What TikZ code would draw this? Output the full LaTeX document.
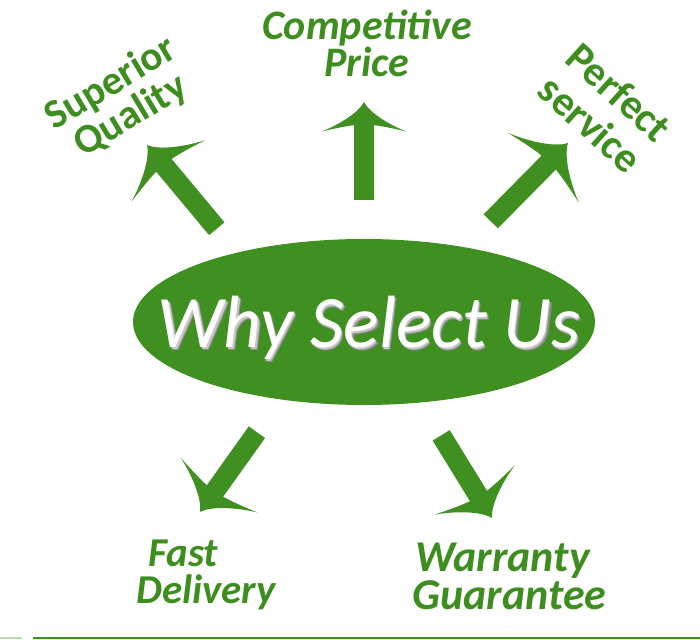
\documentclass[tikz,border=0pt]{standalone}
\usepackage{fontspec}
\setmainfont{Carlito}
\definecolor{wgreen}{RGB}{63,143,33}
\definecolor{tgreen}{RGB}{61,141,31}
\newcommand{\embossed}[1]{\makebox[0pt][l]{\kern2.3pt\raisebox{-2.3pt}{\color{black!45}#1}}\makebox[0pt][l]{\kern1.2pt\raisebox{-1.2pt}{\color{black!22}#1}}#1}
\tikzset{
  pics/fatarrow/.style args={#1/#2}{code={
    \fill[wgreen] (0,0) .. controls ({-0.26*#2},{0.13*#2}) and ({-0.55*#2},{0.62*#2}) .. ({-0.70*#2},#2)
      .. controls ({-0.63*#2},{0.70*#2}) and ({-0.57*#2},{0.40*#2}) .. ({-0.55*#2},10)
      -- (-#1,10) -- (-#1,-10) -- ({-0.55*#2},-10)
      .. controls ({-0.57*#2},{-0.40*#2}) and ({-0.63*#2},{-0.70*#2}) .. ({-0.70*#2},-#2)
      .. controls ({-0.55*#2},{-0.62*#2}) and ({-0.26*#2},{-0.13*#2}) .. cycle;
  }},
  lbl/.style={text=tgreen, align=center, inner sep=0pt},
  lblit/.style={lbl, align=left, anchor=west, font=\fontsize{41}{37}\selectfont\bfseries\itshape},
  lblup/.style={lbl, font=\fontsize{41}{38}\selectfont\bfseries},
  whytext/.style={inner sep=0pt, anchor=base, font=\fontsize{74}{80}\selectfont\itshape}
}
\begin{document}
\begin{tikzpicture}[x=1pt,y=1pt]
\useasboundingbox (0,0) rectangle (700,639);
% central ellipse
\fill[wgreen] (364,317) ellipse [x radius=231, y radius=83];
\node[whytext, text=white] (why) at (369,291) {\embossed{Why Select Us}};
% arrows
\pic (aup) [rotate=90] at (364,537) {fatarrow=98/42};
\pic (asq) [rotate=129.8] at (147,494) {fatarrow=109/48};
\pic (aps) [rotate=45.4] at (568,496) {fatarrow=110/50};
\pic (afd) [rotate=-125.5] at (200,127) {fatarrow=98/47};
\pic (awg) [rotate=-58.4] at (492,121) {fatarrow=97/47};
% labels
\node[lbl, font=\fontsize{42}{34}\selectfont\bfseries\itshape] (cp) at (367,596) {Competitive\\Price};
\node[lblup, rotate=31] (sq) at (121,539) {Superior\\Quality};
\node[lblup, rotate=-42, font=\fontsize{42}{43}\selectfont\bfseries] (ps) at (605,531) {Perfect\\service};
\node[lblit] (fd) at (136,64) {\hspace*{12pt}Fast\\Delivery};
\node[lblit, font=\fontsize{44}{38}\selectfont\bfseries\itshape] (wg) at (412,63) {\hspace*{3pt}Warranty\\Guarantee};
% bottom rule
\draw[wgreen!35, line width=1.5pt] (0,1) -- (22,1);
\draw[wgreen, line width=1.5pt] (33,1) -- (700,1);
\end{tikzpicture}
\end{document}
